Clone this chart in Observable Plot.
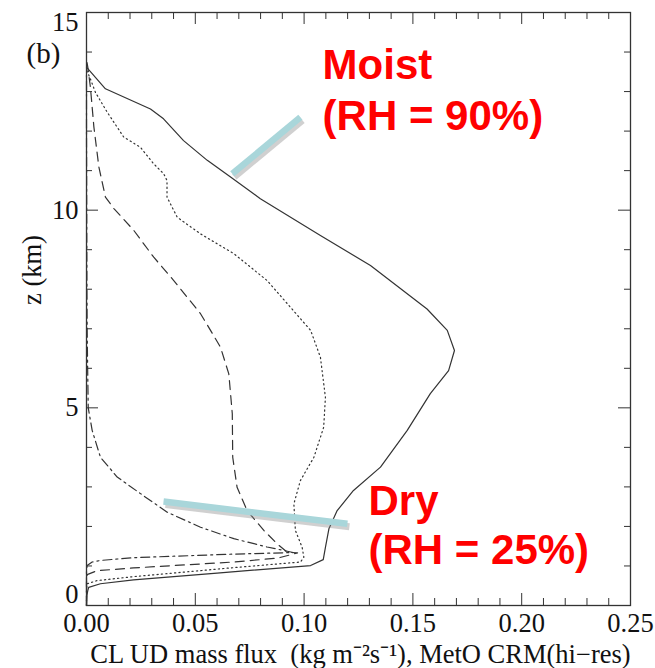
<!DOCTYPE html>
<html><head><meta charset="utf-8">
<script src="https://cdn.jsdelivr.net/npm/d3@7"></script>
<script src="https://cdn.jsdelivr.net/npm/@observablehq/plot@0.6"></script>
<style>body{margin:0;background:#fff}</style>
</head><body><div id="chart"></div>
<script>
// CL UD mass flux (kg m-2 s-1) vs height z (km), four RH profiles
const solidFlux = [0,0.0002,0.0006,0.001,0.0064,0.0216,0.06,0.103,0.1088,0.1098,0.1114,0.1152,0.1227,0.1351,0.1474,0.158,0.1664,0.1691,0.1658,0.1565,0.1305,0.1075,0.0799,0.0662,0.0555,0.0446,0.0354,0.0294,0.0087,0.0];
const solidZ    = [0,0.25,0.38,0.46,0.55,0.65,0.82,1.01,1.16,1.47,1.94,2.40,2.91,3.50,4.43,5.36,5.94,6.45,6.96,7.5,8.6,9.36,10.29,10.84,11.26,11.76,12.31,12.56,13.07,13.62];

const dottedFlux = [0,0,0.0003,0.0049,0.0216,0.066,0.0983,0.0999,0.0991,0.096,0.0953,0.0983,0.1045,0.109,0.1098,0.1075,0.103,0.083,0.0677,0.0524,0.0417,0.037,0.037,0.0355,0.0309,0.0248,0.0171,0.0141,0.0095,0.0041,0.0018,0];
const dottedZ    = [0,0.4,0.55,0.63,0.73,0.95,1.10,1.22,1.47,1.90,2.57,3.16,3.75,4.51,5.27,6.28,6.96,8.22,8.90,9.40,9.82,10.33,10.75,10.92,11.17,11.59,11.85,12.1,12.48,12.98,13.32,13.55];

const dashedFlux = [0,0,0.0003,0.0049,0.0216,0.0676,0.088,0.097,0.0922,0.0876,0.0815,0.0738,0.0692,0.0672,0.067,0.0654,0.0616,0.057,0.0524,0.0401,0.0309,0.0217,0.0126,0.0087,0.0057,0.0034,0.0018,0.0006,0];
const dashedZ    = [0,0.6,0.78,0.88,0.95,1.10,1.20,1.33,1.35,1.56,1.90,2.40,2.99,3.75,4.85,5.86,6.53,6.96,7.38,8.22,8.81,9.49,10.04,10.33,11.09,12.1,13.11,13.62,13.8];

const dashdotFlux = [0,0,0.0003,0.0026,0.0064,0.0216,0.0676,0.095,0.0907,0.083,0.0677,0.0524,0.0371,0.0248,0.0141,0.0064,0.0026,0.0008,0.0005,0.0003,0.0002,0.0001,0,0];
const dashdotZ    = [0,0.9,1.01,1.10,1.14,1.21,1.30,1.34,1.39,1.48,1.69,1.98,2.36,2.83,3.25,3.75,4.43,5.0,6.1,7.0,8.0,10.0,12.0,13.5];

const xTickLabels = [0, 0.05, 0.10, 0.15, 0.20, 0.25];
const xMinorTicks = [0.01,0.02,0.03,0.04,0.06,0.07,0.08,0.09,0.11,0.12,0.13,0.14,0.16,0.17,0.18,0.19,0.21,0.22,0.23,0.24];
const yTickLabels = [0, 5, 10, 15];
const yMinorTicks = [1,2,3,4,6,7,8,9,11,12,13,14];

const annoText = ["Moist", "(RH = 90%)", "Dry", "(RH = 25%)"];
const annoX    = [0.1085, 0.1085, 0.1296, 0.1296];
const annoZ    = [13.33, 12.02, 2.28, 1.06];
const pointerX1 = [0.0670, 0.0354];
const pointerZ1 = [10.92, 2.63];
const pointerX2 = [0.0983, 0.1199];
const pointerZ2 = [12.35, 2.07];

const mk = (fx, fz, s) => fx.map((v, i) => ({flux: v, z: fz[i], s}));
const series = [
  {data: mk(solidFlux, solidZ, "solid"), dash: null},
  {data: mk(dottedFlux, dottedZ, "dotted"), dash: "1.2,3.2"},
  {data: mk(dashedFlux, dashedZ, "dashed"), dash: "9,6"},
  {data: mk(dashdotFlux, dashdotZ, "dashdot"), dash: "9,4,2,4"}
];
const annos = annoText.map((t, i) => ({t, x: annoX[i], z: annoZ[i]}));
const pointers = pointerX1.map((v, i) => ({x1: v, y1: pointerZ1[i], x2: pointerX2[i], y2: pointerZ2[i]}));

const W = 655, H = 668, mL = 86, mR = 25, mT = 12, mB = 63;
const pW = W - mL - mR, pH = H - mT - mB;
const ink = "#333";
const fs = 26.5;
const yMid = yTickLabels.slice(1, -1);

const chart = Plot.plot({
  width: W, height: H,
  marginLeft: mL, marginRight: mR, marginTop: mT, marginBottom: mB,
  style: {fontFamily: "'Liberation Serif', 'Times New Roman', serif", fontSize: fs + "px", color: "#111", background: "#fff"},
  x: {domain: [0, 0.25]},
  y: {domain: [0, 15]},
  marks: [
    ...series.map(sr => Plot.line(sr.data, {x: "flux", y: "z", stroke: ink, strokeWidth: 1.2, strokeDasharray: sr.dash, curve: "linear"})),
    Plot.link(pointers, {x1: "x1", y1: "y1", x2: "x2", y2: "y2", stroke: "#8a8a8a", strokeOpacity: 0.4, strokeWidth: 7, dx: 2, dy: 3}),
    Plot.link(pointers, {x1: "x1", y1: "y1", x2: "x2", y2: "y2", stroke: "#a9d6da", strokeWidth: 6.5}),
    Plot.text(annos, {x: "x", y: "z", text: "t", textAnchor: "start", lineAnchor: "bottom", fill: "#ff0000", fontWeight: "bold", fontSize: 42, fontFamily: "'Liberation Sans', Arial, sans-serif"}),
    Plot.frame({stroke: ink, strokeWidth: 1.3}),
    Plot.tickX(xMinorTicks, {x: d => d, stroke: ink, insetTop: pH - 7}),
    Plot.tickX(xTickLabels, {x: d => d, stroke: ink, insetTop: pH - 12}),
    Plot.tickX(xMinorTicks, {x: d => d, stroke: ink, insetBottom: pH - 7}),
    Plot.tickX(xTickLabels, {x: d => d, stroke: ink, insetBottom: pH - 12}),
    Plot.tickY(yMinorTicks, {y: d => d, stroke: ink, insetRight: pW - 6}),
    Plot.tickY(yTickLabels, {y: d => d, stroke: ink, insetRight: pW - 12}),
    Plot.tickY(yMinorTicks, {y: d => d, stroke: ink, insetLeft: pW - 6}),
    Plot.tickY(yTickLabels, {y: d => d, stroke: ink, insetLeft: pW - 12}),
    Plot.axisX({ticks: xTickLabels, tickSize: 0, tickPadding: 8, tickFormat: d3.format(".2f"), label: null, fontSize: fs}),
    Plot.axisY({ticks: yMid, tickSize: 0, tickPadding: 8, label: null, fontSize: fs}),
    Plot.text(yTickLabels.slice(0, 1), {y: d => d, text: d => String(d), frameAnchor: "left", dx: -8, dy: -11, textAnchor: "end", fontSize: fs}),
    Plot.text(yTickLabels.slice(-1), {y: d => d, text: d => String(d), frameAnchor: "left", dx: -8, dy: 10, textAnchor: "end", fontSize: fs}),
    Plot.text(["CL UD mass flux \u00a0(kg m\u207b\u00b2s\u207b\u00b9), MetO CRM(hi\u2212res)"], {frameAnchor: "bottom", dy: 57, dx: 2, lineAnchor: "bottom", fontSize: fs}),
    Plot.text(["z (km)"], {frameAnchor: "left", dx: -54, dy: -4, rotate: -90, fontSize: fs}),
    Plot.text(["(b)"], {frameAnchor: "top-left", dx: -60, dy: 50, textAnchor: "start", lineAnchor: "bottom", fontSize: 29})
  ]
});
document.getElementById("chart").appendChild(chart);
</script>
</body></html>
